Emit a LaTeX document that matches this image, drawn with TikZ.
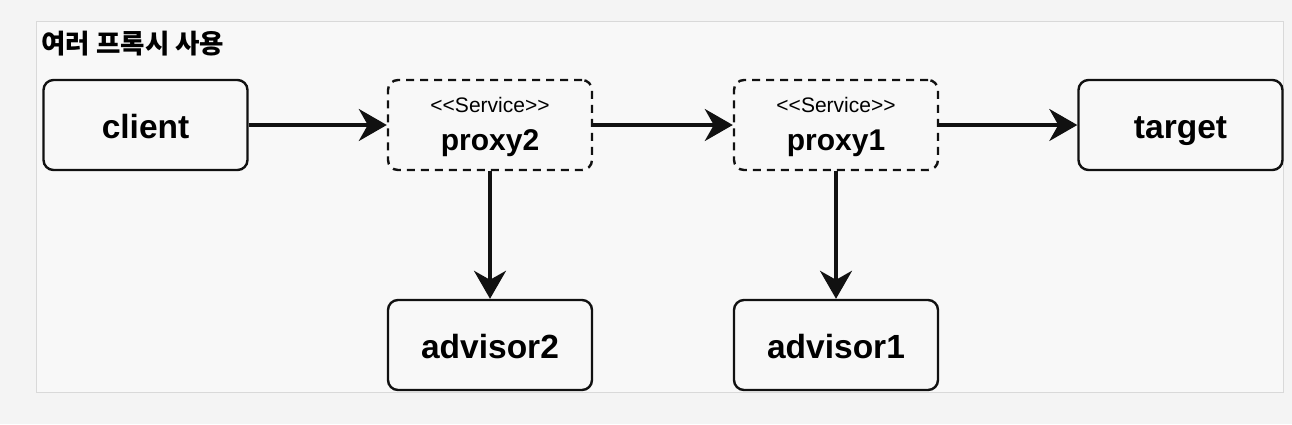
\documentclass[tikz,border=0pt]{standalone}
\usepackage{fontspec}
\usepackage{xcolor}
\usepackage{tikz}
\usetikzlibrary{arrows.meta}
\newfontfamily\hv{Liberation Sans}
\newfontfamily\kor{Noto Sans CJK KR}
\definecolor{paper}{HTML}{F4F4F4}
\definecolor{inner}{HTML}{F8F8F8}
\definecolor{rim}{HTML}{D9D9D9}
\definecolor{ink}{HTML}{111111}
\newcommand{\stereo}[1]{{\mdseries\fontsize{21}{23}\selectfont\rule{0pt}{20pt}<<Service>>}\\[5pt]#1}

\begin{document}
\begin{tikzpicture}[x=1pt,y=-1pt,
  box/.style={draw=ink,line width=2.4pt,rounded corners=10pt,minimum width=204pt,minimum height=90pt,font=\hv\bfseries\fontsize{33.5}{36}\selectfont,text height=26pt,text depth=0pt},
  proxybox/.style={draw=ink,line width=2.4pt,dash pattern=on 8pt off 6pt,rounded corners=10pt,minimum width=204pt,minimum height=90pt,align=center,font=\hv\bfseries\fontsize{30}{33}\selectfont},
  flow/.style={-{Stealth[length=28pt,width=32pt,inset=9pt]},line width=3.4pt,ink}]
\useasboundingbox[fill=paper] (0,0) rectangle (1292,424);
\draw[rim,fill=inner,line width=1pt] (36,21) rectangle (1283,392);
\node[anchor=west,font=\kor\bfseries\fontsize{26.5}{28}\selectfont] (title) at (38,44) {여러 프록시 사용};
\node[box] (client) at (145.5,125) {client};
\node[proxybox] (proxy2) at (490,125) {\stereo{proxy2}};
\node[proxybox] (proxy1) at (836,125) {\stereo{proxy1}};
\node[box] (target) at (1180.5,125) {target};
\node[box] (advisor2) at (490,345) {advisor2};
\node[box] (advisor1) at (836,345) {advisor1};
\draw[flow] (client.east) -- (proxy2.west);
\draw[flow] (proxy2.east) -- (proxy1.west);
\draw[flow] (proxy1.east) -- (target.west);
\draw[flow] (proxy2.south) -- (advisor2.north);
\draw[flow] (proxy1.south) -- (advisor1.north);
\end{tikzpicture}
\end{document}
